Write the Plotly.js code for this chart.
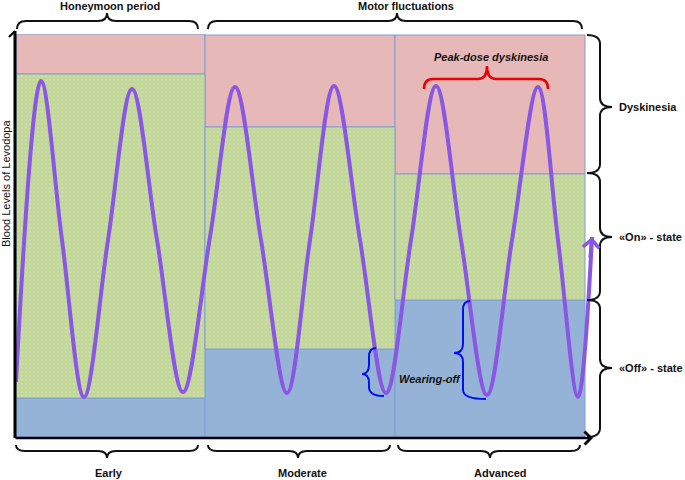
<!DOCTYPE html>
<html>
<head>
<meta charset="utf-8">
<script src="https://cdn.plot.ly/plotly-3.0.1.min.js"></script>
<style>html,body{margin:0;padding:0;background:#fff;}#chart{width:685px;height:480px;}</style>
</head>
<body>
<div id="chart"></div>
<script>
// ---- data ----
const stageNames = ['Early', 'Moderate', 'Advanced'];
const stageEdges = [0, 189, 379, 569];
const offTop = [39, 88, 137];
const onTop = [363, 310, 263];
const dysTop = [403, 402, 402];
const stateLabels = ['Dyskinesia', '«On» - state', '«Off» - state'];
const phaseLabels = ['Honeymoon period', 'Motor fluctuations'];
const timeX =  [0, 25, 46, 68, 92, 116, 141, 167, 194, 219, 245, 271, 294, 318, 344, 370, 395, 420, 445, 471, 496, 522, 542, 562, 576];
const levelY = [55, 356, 197, 40, 197, 348, 197, 45, 200, 350, 197, 44, 197, 351, 197, 44, 197, 351, 197, 42, 197, 350, 197, 40, 200];

// ---- layout helpers (pixel -> paper) ----
const W = 685, H = 480, L = 16, T = 34, PW = 580, PH = 403;
const px2x = p => (p - L) / PW;
const py2y = p => (T + PH - p) / PH;
const pt = (x, y) => px2x(x).toFixed(5) + ',' + py2y(y).toFixed(5);

function hBrace(x1, x2, xt, yEnd, yLine, yTip) {
  const r = 9;
  return 'M' + pt(x1, yEnd) + ' Q' + pt(x1, yLine) + ' ' + pt(x1 + r, yLine) +
    ' L' + pt(xt - r, yLine) + ' Q' + pt(xt, yLine) + ' ' + pt(xt, yTip) +
    ' Q' + pt(xt, yLine) + ' ' + pt(xt + r, yLine) +
    ' L' + pt(x2 - r, yLine) + ' Q' + pt(x2, yLine) + ' ' + pt(x2, yEnd);
}
function vBrace(y1, y2, yt, xEnd1, xEnd2, xLine, xTip) {
  const r = 9;
  return 'M' + pt(xEnd1, y1) + ' Q' + pt(xLine, y1) + ' ' + pt(xLine, y1 + r) +
    ' L' + pt(xLine, yt - r) + ' Q' + pt(xLine, yt) + ' ' + pt(xTip, yt) +
    ' Q' + pt(xLine, yt) + ' ' + pt(xLine, yt + r) +
    ' L' + pt(xLine, y2 - r) + ' Q' + pt(xLine, y2) + ' ' + pt(xEnd2, y2);
}

const pink = '#E6B8B7', green = '#C4D79B', blue = '#95B3D7', border = '#7F9ED2';
const purple = '#8957E3';
const font = 'Liberation Sans, Arial, sans-serif';

const shapes = [];
const traces = [];
for (let i = 0; i < 3; i++) {
  const x0 = stageEdges[i], x1 = stageEdges[i + 1];
  shapes.push({type: 'rect', xref: 'x', yref: 'y', layer: 'below', x0: x0, x1: x1, y0: 0, y1: offTop[i],
    fillcolor: blue, line: {color: border, width: 1}});
  shapes.push({type: 'rect', xref: 'x', yref: 'y', layer: 'below', x0: x0, x1: x1, y0: onTop[i], y1: dysTop[i],
    fillcolor: pink, line: {color: border, width: 1}});
  traces.push({type: 'scatter', mode: 'lines', x: [x0, x1, x1, x0, x0], y: [offTop[i], offTop[i], onTop[i], onTop[i], offTop[i]],
    fill: 'toself', fillcolor: green,
    fillpattern: {shape: '.', bgcolor: green, fgcolor: 'rgba(255,255,255,0.35)', size: 4, solidity: 0.08},
    line: {color: border, width: 1}, hoverinfo: 'skip', showlegend: false});
}
traces.push({type: 'scatter', mode: 'lines', x: timeX, y: levelY,
  line: {color: purple, width: 4, shape: 'spline', smoothing: 1}, hoverinfo: 'skip', showlegend: false});

// axes (drawn)
shapes.push({type: 'line', xref: 'paper', yref: 'paper', x0: px2x(15), x1: px2x(15), y0: py2y(31), y1: py2y(438), line: {color: '#000', width: 3}});
shapes.push({type: 'path', xref: 'paper', yref: 'paper', path: 'M' + pt(9, 37) + ' L' + pt(15, 31), line: {color: '#000', width: 2}});

// braces
const braceLine = {color: '#111', width: 2};
shapes.push({type: 'path', xref: 'paper', yref: 'paper', path: hBrace(17, 198, 107, 29, 21, 13), line: braceLine});
shapes.push({type: 'path', xref: 'paper', yref: 'paper', path: hBrace(208, 582, 397, 29, 21, 13), line: braceLine});
shapes.push({type: 'path', xref: 'paper', yref: 'paper', path: hBrace(16, 198, 107, 445, 451, 458), line: braceLine});
shapes.push({type: 'path', xref: 'paper', yref: 'paper', path: hBrace(208, 390, 298, 445, 451, 458), line: braceLine});
shapes.push({type: 'path', xref: 'paper', yref: 'paper', path: hBrace(398, 580, 490, 445, 451, 458), line: braceLine});
shapes.push({type: 'path', xref: 'paper', yref: 'paper', path: vBrace(35, 173, 107, 587, 587, 600, 612), line: braceLine});
shapes.push({type: 'path', xref: 'paper', yref: 'paper', path: vBrace(173, 300, 237, 587, 587, 600, 612), line: braceLine});
shapes.push({type: 'path', xref: 'paper', yref: 'paper', path: vBrace(300, 437, 368, 587, 587, 600, 612), line: braceLine});
// peak-dose (red)
shapes.push({type: 'path', xref: 'paper', yref: 'paper', path: hBrace(424, 548, 487, 89, 79, 66), line: {color: '#EE0000', width: 2.5}});
// wearing-off (blue)
shapes.push({type: 'path', xref: 'paper', yref: 'paper', path: vBrace(348, 396, 374, 376, 384, 369, 362), line: {color: '#0010F0', width: 2}});
shapes.push({type: 'path', xref: 'paper', yref: 'paper', path: vBrace(301, 399, 353, 470, 486, 463, 454), line: {color: '#0010F0', width: 2}});

const ann = [];
function txt(s, x, y, opts) {
  ann.push(Object.assign({text: s, xref: 'paper', yref: 'paper', x: px2x(x), y: py2y(y), showarrow: false,
    xanchor: 'center', yanchor: 'middle', font: {family: font, size: 11, color: '#111'}}, opts || {}));
}
txt('<b>' + phaseLabels[0] + '</b>', 110, 6);
txt('<b>' + phaseLabels[1] + '</b>', 406, 6);
const stageTextX = [109, 302, 500];
for (let i = 0; i < 3; i++) txt('<b>' + stageNames[i] + '</b>', stageTextX[i], 473);
const stateTextY = [107, 237, 368];
for (let i = 0; i < 3; i++) txt('<b>' + stateLabels[i] + '</b>', 617, stateTextY[i], {xanchor: 'left'});
txt('<b><i>Peak-dose dyskinesia</i></b>', 491, 57);
txt('<b><i>Wearing-off</i></b>', 430, 379);
txt('Blood Levels of Levodopa', 6, 184, {textangle: -90, font: {family: font, size: 11, color: '#111'}});

// x-axis arrow
ann.push({xref: 'paper', yref: 'paper', x: px2x(593), y: py2y(438), ax: -579, ay: 0, axref: 'pixel', ayref: 'pixel',
  text: '', showarrow: true, arrowhead: 4, arrowsize: 1, arrowwidth: 2.5, arrowcolor: '#000', standoff: 0});
// curve arrow tip
ann.push({xref: 'x', yref: 'y', x: timeX[timeX.length - 1], y: levelY[levelY.length - 1], ax: -2, ay: 22,
  axref: 'pixel', ayref: 'pixel', text: '', showarrow: true, arrowhead: 4, arrowsize: 0.9, arrowwidth: 3.5,
  arrowcolor: purple, standoff: 0});

const layout = {
  width: W, height: H,
  margin: {l: L, r: W - L - PW, t: T, b: H - T - PH, pad: 0},
  paper_bgcolor: '#fff', plot_bgcolor: '#fff',
  xaxis: {range: [0, PW], visible: false, fixedrange: true},
  yaxis: {range: [0, PH], visible: false, fixedrange: true},
  shapes: shapes, annotations: ann, showlegend: false
};
Plotly.newPlot('chart', traces, layout, {staticPlot: true, displayModeBar: false});
</script>
</body>
</html>
